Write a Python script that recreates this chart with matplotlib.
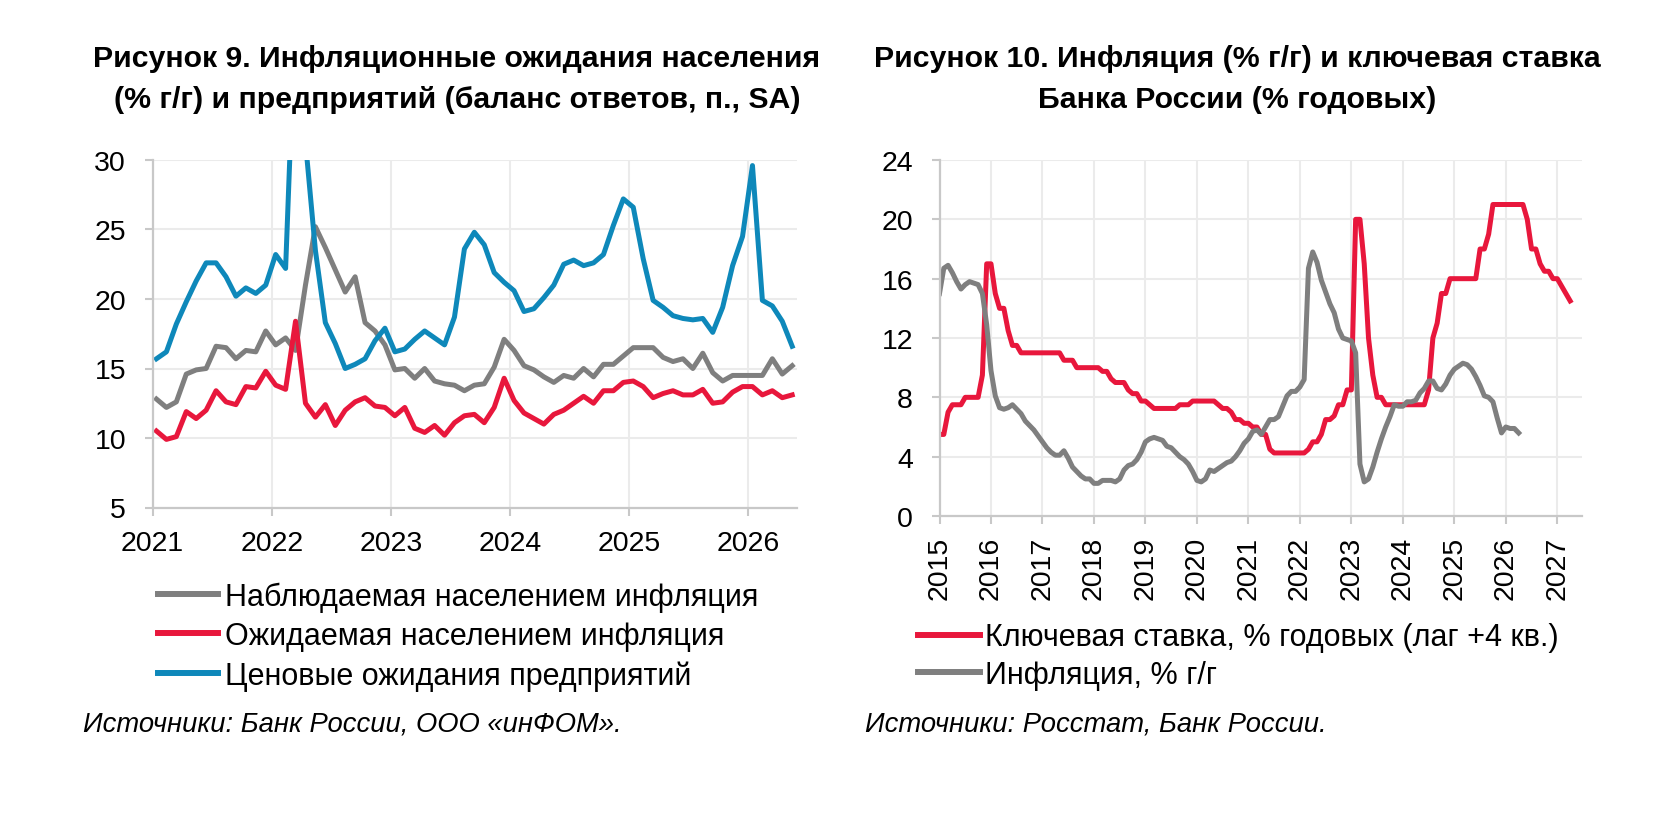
import matplotlib
matplotlib.use("Agg")
import matplotlib.pyplot as plt
import numpy as np

plt.rcParams['font.family'] = ['Liberation Sans', 'DejaVu Sans']

# ---- Рисунок 9: monthly data, Jan 2021 .. May 2026 ----
left_start_year = 2021
observed_infl = [12.8, 12.2, 12.6, 14.6, 14.9, 15.0, 16.6, 16.5, 15.7, 16.3,
                 16.2, 17.7, 16.7, 17.2, 16.3, 21.0, 25.2, 23.7, 22.1, 20.5,
                 21.6, 18.3, 17.7, 16.7, 14.9, 15.0, 14.3, 15.0, 14.1, 13.9,
                 13.8, 13.4, 13.8, 13.9, 15.1, 17.1, 16.3, 15.2, 14.9, 14.4,
                 14.0, 14.5, 14.3, 15.0, 14.4, 15.3, 15.3, 15.9, 16.5, 16.5,
                 16.5, 15.8, 15.5, 15.7, 15.0, 16.1, 14.7, 14.1, 14.5, 14.5,
                 14.5, 14.5, 15.7, 14.6, 15.2]
expected_infl = [10.5, 9.9, 10.1, 11.9, 11.4, 12.0, 13.4, 12.6, 12.4, 13.7,
                 13.6, 14.8, 13.8, 13.5, 18.4, 12.5, 11.5, 12.4, 10.9, 12.0,
                 12.6, 12.9, 12.3, 12.2, 11.6, 12.2, 10.7, 10.4, 10.9, 10.2,
                 11.1, 11.6, 11.7, 11.1, 12.2, 14.3, 12.7, 11.8, 11.4, 11.0,
                 11.7, 12.0, 12.5, 13.0, 12.5, 13.4, 13.4, 14.0, 14.1, 13.7,
                 12.9, 13.2, 13.4, 13.1, 13.1, 13.5, 12.5, 12.6, 13.3, 13.7,
                 13.7, 13.1, 13.4, 12.9, 13.1]
business_exp = [15.7, 16.2, 18.2, 19.8, 21.3, 22.6, 22.6, 21.6, 20.2, 20.8,
                20.4, 21.0, 23.2, 22.2, 41.0, 31.3, 23.5, 18.3, 16.8, 15.0,
                15.3, 15.7, 17.0, 17.9, 16.2, 16.4, 17.1, 17.7, 17.2, 16.7,
                18.7, 23.6, 24.8, 23.9, 21.9, 21.2, 20.6, 19.1, 19.3, 20.1,
                21.0, 22.5, 22.8, 22.4, 22.6, 23.2, 25.3, 27.2, 26.6, 22.9,
                19.9, 19.4, 18.8, 18.6, 18.5, 18.6, 17.6, 19.4, 22.4, 24.5,
                29.6, 19.9, 19.5, 18.4, 16.6]
left_labels = ['Наблюдаемая населением инфляция',
               'Ожидаемая населением инфляция',
               'Ценовые ожидания предприятий']
left_years = [2021, 2022, 2023, 2024, 2025, 2026]
left_yticks = [5, 10, 15, 20, 25, 30]

# ---- Рисунок 10: monthly data from Jan 2015 ----
right_start_year = 2015
key_rate_lag = [
    5.5, 5.5, 7.0, 7.5, 7.5, 7.5, 8.0, 8.0, 8.0, 8.0, 9.5, 17.0,          # 2015
    17.0, 15.0, 14.0, 14.0, 12.5, 11.5, 11.5, 11.0, 11.0, 11.0, 11.0, 11.0,  # 2016
    11.0, 11.0, 11.0, 11.0, 11.0, 10.5, 10.5, 10.5, 10.0, 10.0, 10.0, 10.0,  # 2017
    10.0, 10.0, 9.75, 9.75, 9.25, 9.0, 9.0, 9.0, 8.5, 8.25, 8.25, 7.75,     # 2018
    7.75, 7.5, 7.25, 7.25, 7.25, 7.25, 7.25, 7.25, 7.5, 7.5, 7.5, 7.75,     # 2019
    7.75, 7.75, 7.75, 7.75, 7.75, 7.5, 7.25, 7.25, 7.0, 6.5, 6.5, 6.25,     # 2020
    6.25, 6.0, 6.0, 5.5, 5.5, 4.5, 4.25, 4.25, 4.25, 4.25, 4.25, 4.25,      # 2021
    4.25, 4.25, 4.5, 5.0, 5.0, 5.5, 6.5, 6.5, 6.75, 7.5, 7.5, 8.5,          # 2022
    8.5, 20.0, 20.0, 17.0, 12.0, 9.5, 8.0, 8.0, 7.5, 7.5, 7.5, 7.5,         # 2023
    7.5, 7.5, 7.5, 7.5, 7.5, 7.5, 8.5, 12.0, 13.0, 15.0, 15.0, 16.0,        # 2024
    16.0, 16.0, 16.0, 16.0, 16.0, 16.0, 18.0, 18.0, 19.0, 21.0, 21.0, 21.0,  # 2025
    21.0, 21.0, 21.0, 21.0, 21.0, 20.0, 18.0, 18.0, 17.0, 16.5, 16.5, 16.0,  # 2026
    16.0, 15.5, 15.0, 14.5,                                                  # 2027
]
cpi_yoy = [
    15.0, 16.7, 16.9, 16.4, 15.8, 15.3, 15.6, 15.8, 15.7, 15.6, 15.0, 12.9,
    9.8, 8.1, 7.3, 7.2, 7.3, 7.5, 7.2, 6.9, 6.4, 6.1, 5.8, 5.4,
    5.0, 4.6, 4.3, 4.1, 4.1, 4.4, 3.9, 3.3, 3.0, 2.7, 2.5, 2.5,
    2.2, 2.2, 2.4, 2.4, 2.4, 2.3, 2.5, 3.1, 3.4, 3.5, 3.8, 4.3,
    5.0, 5.2, 5.3, 5.2, 5.1, 4.7, 4.6, 4.3, 4.0, 3.8, 3.5, 3.0,
    2.4, 2.3, 2.5, 3.1, 3.0, 3.2, 3.4, 3.6, 3.7, 4.0, 4.4, 4.9,
    5.2, 5.7, 5.8, 5.5, 6.0, 6.5, 6.5, 6.7, 7.4, 8.1, 8.4, 8.4,
    8.7, 9.2, 16.7, 17.8, 17.1, 15.9, 15.1, 14.3, 13.7, 12.6, 12.0, 11.9,
    11.8, 11.0, 3.5, 2.3, 2.5, 3.3, 4.3, 5.2, 6.0, 6.7, 7.5, 7.4,
    7.4, 7.7, 7.7, 7.8, 8.3, 8.6, 9.1, 9.1, 8.6, 8.5, 8.9, 9.5,
    9.9, 10.1, 10.3, 10.2, 9.9, 9.4, 8.8, 8.1, 8.0, 7.7, 6.6, 5.6,
    6.0, 5.9, 5.9, 5.6,
]
right_labels = ['Ключевая ставка, % годовых (лаг +4 кв.)', 'Инфляция, % г/г']
right_years = list(range(2015, 2028))
right_yticks = [0, 4, 8, 12, 16, 20, 24]

RED = '#E8173C'
GRAY = '#7F7F7F'
BLUE = '#0E88BA'
AXIS_C = '#C8C8C8'
GRID_C = '#EBEBEB'
W, H = 1675, 820


def style_axis(ax):
    for s in ['top', 'right']:
        ax.spines[s].set_visible(False)
    for s in ['left', 'bottom']:
        ax.spines[s].set_color(AXIS_C)
        ax.spines[s].set_linewidth(1.6)
    ax.grid(True, color=GRID_C, linewidth=1.5)
    ax.set_axisbelow(True)
    ax.tick_params(axis='both', colors=AXIS_C, length=6, width=1.5,
                   labelcolor='black', labelsize=20.5)
    ax.tick_params(axis='y', pad=13)


fig = plt.figure(figsize=(W / 100, H / 100), dpi=100)

# left chart
ax1 = fig.add_axes([152.5 / W, 1 - 508.5 / H, (797 - 152.5) / W, (508.5 - 161) / H])
x_left = left_start_year + (np.arange(len(observed_infl)) + 0.4) / 12
ax1.plot(x_left, observed_infl, color=GRAY, lw=3.6, label=left_labels[0])
ax1.plot(x_left, expected_infl, color=RED, lw=3.6, label=left_labels[1])
ax1.plot(x_left, business_exp, color=BLUE, lw=3.6, label=left_labels[2])
ax1.set_xlim(2021, 2026.407)
ax1.set_ylim(5, 30)
ax1.set_xticks(left_years)
ax1.set_xticklabels([str(y) for y in left_years])
ax1.set_yticks(left_yticks)
style_axis(ax1)
ax1.tick_params(axis='x', pad=10)

leg1 = fig.legend(handles=ax1.get_lines(), loc='center left',
                  bbox_to_anchor=(158.3 / W, 1 - 637 / H), frameon=False,
                  fontsize=22, handlelength=1.96, handletextpad=0.22,
                  labelspacing=0.3, borderpad=0, borderaxespad=0)
for h in leg1.legend_handles:
    h.set_linewidth(4.3)

# right chart
ax2 = fig.add_axes([939.5 / W, 1 - 517 / H, (1582 - 939.5) / W, (517 - 161) / H])
x_rate = right_start_year + np.arange(len(key_rate_lag)) / 12
x_cpi = right_start_year + np.arange(len(cpi_yoy)) / 12
ax2.plot(x_rate, key_rate_lag, color=RED, lw=3.6, label=right_labels[0])
ax2.plot(x_cpi, cpi_yoy, color=GRAY, lw=3.6, label=right_labels[1])
ax2.set_xlim(2015, 2027.48)
ax2.set_ylim(0, 24)
ax2.set_xticks(right_years)
ax2.set_xticklabels([str(y) for y in right_years], rotation=90)
ax2.set_yticks(right_yticks)
style_axis(ax2)
ax2.tick_params(axis='x', pad=8)

leg2 = fig.legend(handles=ax2.get_lines(), loc='center left',
                  bbox_to_anchor=(918.3 / W, 1 - 657 / H), frameon=False,
                  fontsize=22, handlelength=2.02, handletextpad=0.16,
                  labelspacing=0.23, borderpad=0, borderaxespad=0)
for h in leg2.legend_handles:
    h.set_linewidth(4.3)

# titles
fig.text(457 / W, 1 - 66.7 / H, 'Рисунок 9. Инфляционные ожидания населения',
         ha='center', va='baseline', fontsize=21.8, fontweight='bold')
fig.text(457 / W, 1 - 107.5 / H, '(% г/г) и предприятий (баланс ответов, п., SA)',
         ha='center', va='baseline', fontsize=21.8, fontweight='bold')
fig.text(1237 / W, 1 - 66.7 / H, 'Рисунок 10. Инфляция (% г/г) и ключевая ставка',
         ha='center', va='baseline', fontsize=21.8, fontweight='bold')
fig.text(1237 / W, 1 - 107.5 / H, 'Банка России (% годовых)',
         ha='center', va='baseline', fontsize=21.8, fontweight='bold')

# sources
fig.text(83 / W, 1 - 731.7 / H, 'Источники: Банк России, ООО «инФОМ».',
         ha='left', va='baseline', fontsize=19.7, style='italic')
fig.text(865 / W, 1 - 731.7 / H, 'Источники: Росстат, Банк России.',
         ha='left', va='baseline', fontsize=19.7, style='italic')

fig.savefig('out.png', dpi=100)
